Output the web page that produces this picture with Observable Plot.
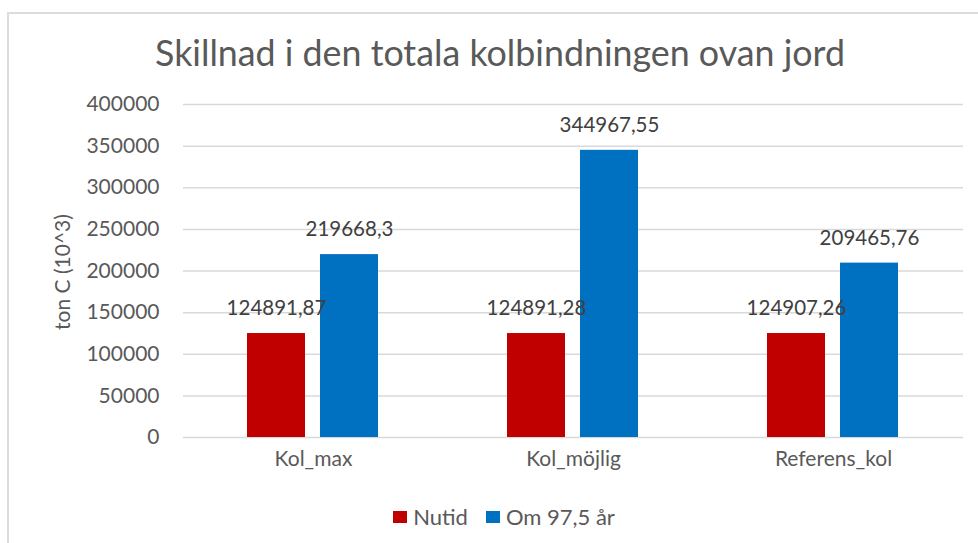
<!DOCTYPE html>
<html>
<head>
<meta charset="utf-8">
<script src="https://cdn.jsdelivr.net/npm/d3@7"></script>
<script src="https://cdn.jsdelivr.net/npm/@observablehq/plot@0.6"></script>
<style>
  html, body { margin: 0; padding: 0; background: #fff; }
  #wrap { position: relative; width: 978px; height: 543px; overflow: hidden; font-family: Lato, "Open Sans", sans-serif; }
  #frame { position: absolute; left: 7px; top: 12px; width: 1200px; height: 800px; border-left: 2px solid #dcdcdc; border-top: 2px solid #dcdcdc; }
  #title { position: absolute; left: 0; width: 1000px; top: 33px; text-align: center; font-size: 35.8px; font-weight: 400; color: #595959; white-space: nowrap; line-height: 40px; }
  #ylab { position: absolute; left: 61px; top: 272px; transform: translate(-50%, -50%) rotate(-90deg); font-size: 21px; color: #595959; white-space: nowrap; }
  #chart { position: absolute; left: 0; top: 0; }
  #legend { position: absolute; left: 0; width: 1008px; top: 502px; text-align: center; font-size: 22px; color: #595959; white-space: nowrap; line-height: 26px; }
  .li { display: inline-flex; align-items: center; margin: 0 9px; }
  .sw { display: inline-block; width: 14px; height: 12px; margin-right: 6px; }
</style>
</head>
<body>
<div id="wrap">
  <div id="frame"></div>
  <div id="title">Skillnad i den totala kolbindningen ovan jord</div>
  <div id="chart"></div>
  <div id="ylab">ton C (10^3)</div>
  <div id="legend"></div>
</div>
<script>
const categories = ["Kol_max", "Kol_möjlig", "Referens_kol"];
const seriesNames = ["Nutid", "Om 97,5 år"];
const seriesColors = ["#C00000", "#0070C0"];
const nutidValues = [124891.87, 124891.28, 124907.26];
const omValues = [219668.3, 344967.55, 209465.76];
const nutidLabels = ["124891,87", "124891,28", "124907,26"];
const omLabels = ["219668,3", "344967,55", "209465,76"];
const yTicks = [0, 50000, 100000, 150000, 200000, 250000, 300000, 350000, 400000];

const data = categories.flatMap((c, i) => [
  {cat: c, s: seriesNames[0], v: nutidValues[i], label: nutidLabels[i]},
  {cat: c, s: seriesNames[1], v: omValues[i], label: omLabels[i]}
]);

const chart = Plot.plot({
  width: 978,
  height: 480,
  marginTop: 104,
  marginBottom: 43,
  marginLeft: 182,
  marginRight: 15,
  style: {fontFamily: "Lato, 'Open Sans', sans-serif", background: "transparent"},
  fx: {domain: categories, padding: 0, label: null, axis: null},
  x: {domain: seriesNames, paddingInner: 0.2, paddingOuter: 0.86, axis: null},
  y: {domain: [0, 400000], label: null},
  color: {domain: seriesNames, range: seriesColors},
  marks: [
    Plot.gridY(yTicks, {stroke: "#d9d9d9", strokeOpacity: 1, strokeWidth: 1.5}),
    Plot.axisY(yTicks, {tickSize: 0, tickPadding: 24, tickFormat: d => String(d), fontSize: 21, fill: "#595959", label: null}),
    Plot.axisFx({anchor: "bottom", tickSize: 0, tickPadding: 14, fontSize: 21, fill: "#595959", label: null}),
    Plot.barY(data, {fx: "cat", x: "s", y: "v", fill: "s"}),
    Plot.text(data, {fx: "cat", x: "s", y: "v", text: "label", dy: -25, fontSize: 20.5, fill: "#404040"})
  ]
});
document.getElementById("chart").appendChild(chart);

const legend = document.getElementById("legend");
seriesNames.forEach((name, i) => {
  const item = document.createElement("span");
  item.className = "li";
  const sw = document.createElement("span");
  sw.className = "sw";
  sw.style.background = seriesColors[i];
  item.appendChild(sw);
  item.appendChild(document.createTextNode(name));
  legend.appendChild(item);
});
</script>
</body>
</html>
